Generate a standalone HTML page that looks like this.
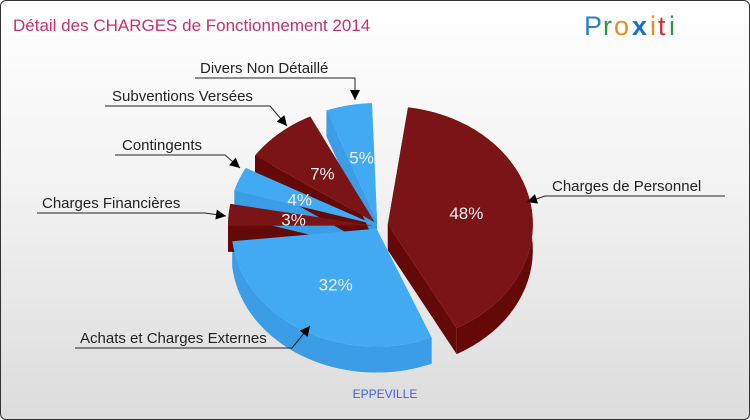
<!DOCTYPE html>
<html><head><meta charset="utf-8"><style>
html,body{margin:0;padding:0;}
body{width:750px;height:420px;overflow:hidden;font-family:"Liberation Sans",sans-serif;}
#frame{position:absolute;left:0;top:0;width:748px;height:418px;border:1px solid #333;border-radius:6px;background:linear-gradient(#ffffff,#f4f4f4 40%,#dcdcdc);overflow:hidden;}
</style></head><body>
<div id="frame">
<svg id="chart" width="750" height="420" style="position:absolute;left:-1px;top:-1px">
<text x="13" y="31" font-size="17" fill="#c8306e">Détail des CHARGES de Fonctionnement 2014</text>
<g font-size="27" font-family="'Liberation Sans',sans-serif">
<text x="584" y="35" fill="#2a7fd0">P</text><text x="603" y="35" fill="#2a9a3a">r</text><text x="614" y="35" fill="#f08a1c">o</text><text x="632" y="35" fill="#1a6fc8" font-weight="bold">x</text><text x="650" y="35" fill="#f08a1c">i</text><text x="658" y="35" fill="#d03030">t</text><text x="669" y="35" fill="#2a9a3a">i</text>
</g>
<text x="385" y="398" font-size="12" fill="#4060e0" text-anchor="middle">EPPEVILLE</text>
<g id="pie"></g>
<g id="labels" font-size="15" fill="#222"></g>
</svg>
</div>
<script>
const categories=["Charges de Personnel","Achats et Charges Externes","Charges Financières","Contingents","Subventions Versées","Divers Non Détaillé"];
const values=[48,32,3,4,7,5];
const pctLabels=["48%","32%","3%","4%","7%","5%"];
const NS="http://www.w3.org/2000/svg";
const cx=378,cy=226,rx=145,ry=118,depth=26;
// perspective warp: cumulative fraction -> visual angle (deg)
const warpF=[0,0.48,0.80,0.83,0.87,0.94,1.0];
const warpA=[8,153,262,280,297,332,361];
function warp(f){for(let k=1;k<warpF.length;k++){if(f<=warpF[k]){const t=(f-warpF[k-1])/(warpF[k]-warpF[k-1]);return warpA[k-1]+t*(warpA[k]-warpA[k-1]);}}return warpA[warpA.length-1];}
const tops=["#7a1416","#42aaf2"],sides=["#640808","#3a9de6"];
const pie=document.getElementById('pie');
const total=values.reduce((a,b)=>a+b,0);
function pt(ox,oy,a,k){return [ox+k*rx*Math.sin(a),oy-k*ry*Math.cos(a)];}
function mk(tag,attrs){const e=document.createElementNS(NS,tag);for(const k in attrs)e.setAttribute(k,attrs[k]);return e;}
let acc=0;const slices=[];
values.forEach((v,i)=>{
 const g0=i===0?0:3,g1=3;
 const a0=(warp(acc/total)+g0)*Math.PI/180;acc+=v;
 const a1=(warp(acc/total)-g1)*Math.PI/180;
 const mid=(a0+a1)/2,off=i===0?10:(i===1?3:5);
 const ox=cx+off*Math.sin(mid),oy=cy-off*Math.cos(mid);
 slices.push({i,a0,a1,mid,ox,oy});
});
const sideG=mk('g',{});pie.appendChild(sideG);
const topG=mk('g',{});pie.appendChild(topG);
slices.forEach(s=>{
 const c=s.i%2;
 [s.a0,s.a1].forEach(a=>{
  const p=pt(s.ox,s.oy,a,1);
  const f=mk('path',{d:`M${s.ox},${s.oy}L${p[0]},${p[1]}L${p[0]},${p[1]+depth}L${s.ox},${s.oy+depth}Z`,fill:sides[c]});
  
  
  sideG.appendChild(f);
 });
 const n=40;const pts=[];
 for(let k=0;k<=n;k++){const a=s.a0+(s.a1-s.a0)*k/n;pts.push(pt(s.ox,s.oy,a,1));}
 const d='M'+pts.map(p=>p[0]+','+p[1]).join('L')+'L'+pts.slice().reverse().map(p=>p[0]+','+(p[1]+depth)).join('L')+'Z';
 const w=mk('path',{d,fill:sides[c]});
 
 
 sideG.appendChild(w);
 const t=mk('path',{d:`M${s.ox},${s.oy}L`+pts.map(p=>p[0]+','+p[1]).join('L')+'Z',fill:tops[c]});
 
 
 topG.appendChild(t);
 const lp=pt(s.ox,s.oy,s.mid,s.i<2?0.55:0.55);
 const tx=mk('text',{x:lp[0],y:lp[1]+6,'text-anchor':'middle','font-size':17,fill:'#eee'});
 tx.textContent=pctLabels[s.i];
 
 
 topG.appendChild(tx);
});
const callouts=[
 {i:0,tx:552,ty:191,line:[[725,196],[545,196],[527,202]]},
 {i:1,tx:80,ty:343,line:[[75,348],[292,348],[310,326]]},
 {i:2,tx:42,ty:208,line:[[37,213],[205,213],[226,216]]},
 {i:3,tx:122,ty:150,line:[[115,155],[225,155],[240,168]]},
 {i:4,tx:112,ty:101,line:[[105,106],[270,106],[287,126]]},
 {i:5,tx:200,ty:73,line:[[195,78],[355,78],[355,100]]}
];
const lab=document.getElementById('labels');
callouts.forEach(c=>{
 const t=mk('text',{x:c.tx,y:c.ty});t.textContent=categories[c.i];
 
 
 lab.appendChild(t);
 const l=mk('polyline',{points:c.line.map(p=>p.join(',')).join(' '),fill:'none',stroke:'#222','stroke-width':1});
 
 
 lab.appendChild(l);
 const e=c.line[2],s=c.line[1];const ang=Math.atan2(e[1]-s[1],e[0]-s[0]);
 const L=10,W=5;
 const b=[e[0]-L*Math.cos(ang),e[1]-L*Math.sin(ang)];
 const ar=mk('path',{d:`M${e[0]},${e[1]}L${b[0]+W*Math.sin(ang)},${b[1]-W*Math.cos(ang)}L${b[0]-W*Math.sin(ang)},${b[1]+W*Math.cos(ang)}Z`,fill:'#000'});
 
 
 lab.appendChild(ar);
});
</script>
</body></html>
